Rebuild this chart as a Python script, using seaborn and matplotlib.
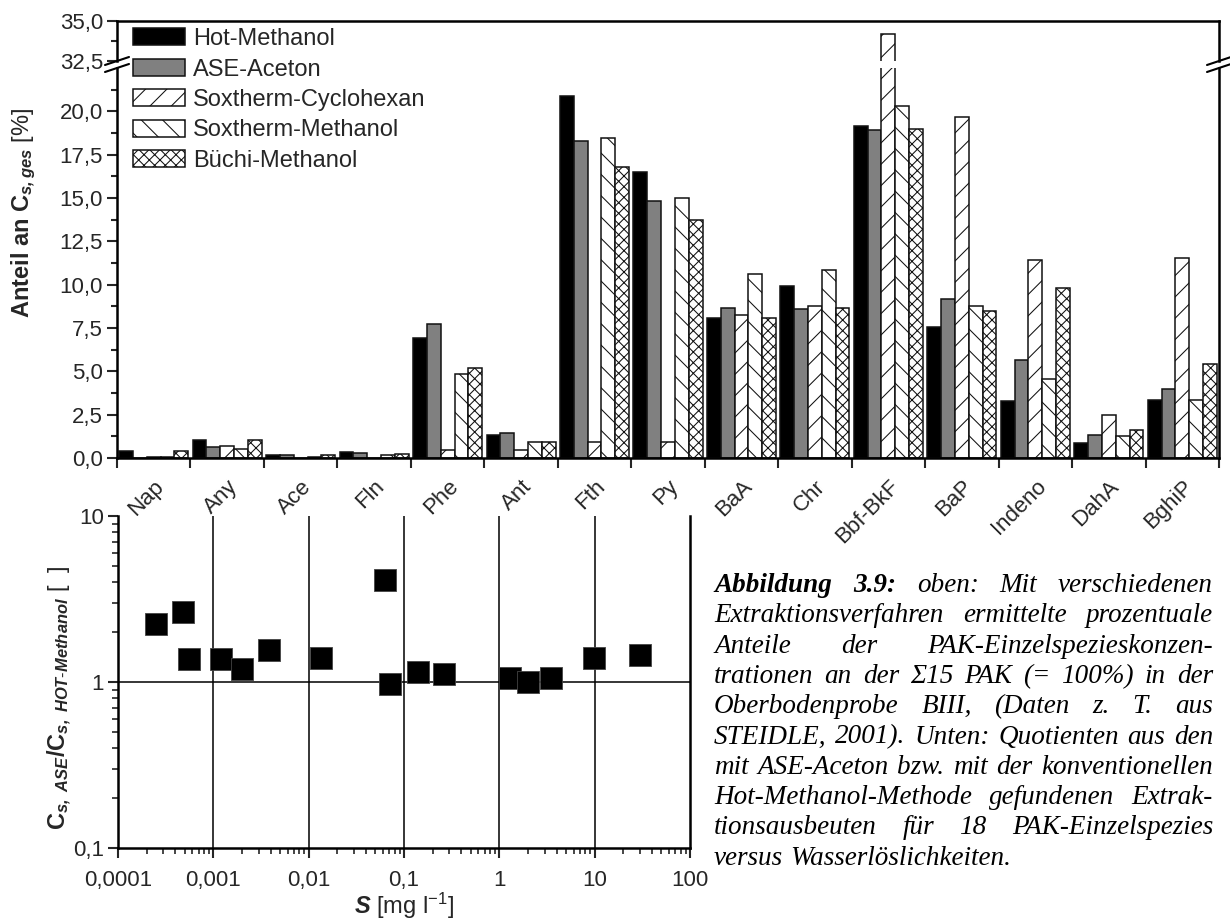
import numpy as np
import pandas as pd
import matplotlib
matplotlib.use("Agg")
import matplotlib.pyplot as plt
import seaborn as sns
from matplotlib.patches import Patch
from matplotlib.lines import Line2D
from matplotlib.ticker import FixedLocator, FuncFormatter, NullFormatter

# ---------------- data ----------------
categories = ["Nap", "Any", "Ace", "Fln", "Phe", "Ant", "Fth", "Py", "BaA", "Chr",
              "Bbf-BkF", "BaP", "Indeno", "DahA", "BghiP"]
series_names = ["Hot-Methanol", "ASE-Aceton", "Soxtherm-Cyclohexan",
                "Soxtherm-Methanol", "Büchi-Methanol"]
hot_methanol = [0.40, 1.05, 0.20, 0.35, 6.90, 1.35, 20.90, 16.50, 8.10, 9.95, 19.15, 7.55, 3.30, 0.85, 3.35]
ase_aceton = [0.02, 0.65, 0.15, 0.30, 7.75, 1.42, 18.30, 14.80, 8.65, 8.60, 18.90, 9.15, 5.65, 1.35, 4.00]
sox_cyclohexan = [0.05, 0.70, 0.02, 0.02, 0.45, 0.45, 0.95, 0.95, 8.25, 8.75, 34.20, 19.70, 11.40, 2.50, 11.55]
sox_methanol = [0.05, 0.50, 0.08, 0.15, 4.85, 0.90, 18.45, 15.00, 10.60, 10.85, 20.30, 8.75, 4.55, 1.25, 3.35]
buechi_methanol = [0.40, 1.05, 0.15, 0.22, 5.20, 0.90, 16.80, 13.75, 8.10, 8.65, 19.00, 8.50, 9.80, 1.60, 5.45]

solubility = [2.5e-4, 4.8e-4, 5.5e-4, 1.2e-3, 2.0e-3, 3.8e-3, 1.35e-2, 6.3e-2,
              7.2e-2, 0.14, 0.26, 1.3, 2.0, 3.5, 9.9, 30.0]
ratio_ase_hot = [2.25, 2.65, 1.38, 1.38, 1.20, 1.55, 1.40, 4.10,
                 0.97, 1.15, 1.12, 1.05, 1.00, 1.05, 1.40, 1.45]

y_ticks_lower = [0, 2.5, 5, 7.5, 10, 12.5, 15, 17.5, 20]
y_ticks_upper = [32.5, 35.0]
x_decades_sc = [1e-4, 1e-3, 1e-2, 1e-1, 1, 10, 100]
y_decades_sc = [0.1, 1, 10]

caption_lines = [
    "Abbildung 3.9: oben: Mit verschiedenen",
    "Extraktionsverfahren ermittelte prozentuale",
    "Anteile der PAK-Einzelspezieskonzen-",
    "trationen an der Σ15 PAK (= 100%) in der",
    "Oberbodenprobe BIII, (Daten z. T. aus",
    "STEIDLE, 2001). Unten: Quotienten aus den",
    "mit ASE-Aceton bzw. mit der konventionellen",
    "Hot-Methanol-Methode gefundenen Extrak-",
    "tionsausbeuten für 18 PAK-Einzelspezies",
    "versus Wasserlöslichkeiten.",
]

# ---------------- style ----------------
DPI = 64
K = 100 / DPI   # converts "points at 100 dpi" into points at the working dpi

sns.set_theme(style="ticks")
plt.rcParams["font.family"] = ["Liberation Sans", "DejaVu Sans"]
plt.rcParams["mathtext.fontset"] = "custom"
plt.rcParams["mathtext.rm"] = "Liberation Sans"
plt.rcParams["mathtext.it"] = "Liberation Sans:italic"
plt.rcParams["mathtext.bf"] = "Liberation Sans:bold"
plt.rcParams["mathtext.bfit"] = "Liberation Sans:bold:italic"
plt.rcParams["hatch.linewidth"] = 0.75 * K
plt.rcParams["hatch.color"] = "black"

W, H = 1230, 922
fig = plt.figure(figsize=(W / DPI, H / DPI), dpi=DPI)
fig.patch.set_facecolor("white")


def fx(px):
    return px / W


def fy(py):
    return 1 - py / H


L, R = 117, 1219
UP_T, UP_B = 21, 61
LO_T, LO_B = 68, 458
ax_up = fig.add_axes([fx(L), fy(UP_B), (R - L) / W, (UP_B - UP_T) / H])
ax_lo = fig.add_axes([fx(L), fy(LO_B), (R - L) / W, (LO_B - LO_T) / H])
ax_sc = fig.add_axes([fx(118), fy(848), (690 - 118) / W, (848 - 516) / H])

df = pd.DataFrame({
    "Kategorie": categories * 5,
    "Verfahren": sum([[s] * len(categories) for s in series_names], []),
    "Anteil": hot_methanol + ase_aceton + sox_cyclohexan + sox_methanol + buechi_methanol,
})

styles = [
    dict(fc="black", hatch=None),
    dict(fc="#808080", hatch=None),
    dict(fc="white", hatch="/"),
    dict(fc="white", hatch="\\"),
    dict(fc="white", hatch="xx"),
]

for ax in (ax_up, ax_lo):
    sns.barplot(data=df, x="Kategorie", y="Anteil", hue="Verfahren",
                order=categories, hue_order=series_names, width=0.94, gap=0,
                errorbar=None, saturation=1, legend=False, ax=ax)
    for cont, st in zip(ax.containers, styles):
        for p in cont:
            p.set_facecolor(st["fc"])
            p.set_edgecolor("#111111")
            p.set_linewidth(1.1 * K)
            if st["hatch"]:
                p.set_hatch(st["hatch"])
    ax.set_xlim(-0.5, len(categories) - 0.5)
    ax.set_xlabel("")
    ax.set_ylabel("")
    for s in ax.spines.values():
        s.set_linewidth(1.8 * K)
        s.set_color("black")
    ax.tick_params(axis="y", which="major", direction="out", length=7 * K, width=1.5 * K,
                   labelsize=16 * K, pad=3 * K)
    ax.tick_params(axis="y", which="minor", direction="out", length=4 * K, width=1.5 * K)
    ax.yaxis.set_major_formatter(FuncFormatter(lambda v, p: f"{v:.1f}".replace(".", ",")))

ax_lo.set_ylim(0, 22.5)
ax_lo.yaxis.set_major_locator(FixedLocator(y_ticks_lower))
ax_lo.yaxis.set_minor_locator(FixedLocator(list(np.arange(1.25, 22.0, 2.5))))
ax_lo.spines["top"].set_visible(False)
ax_lo.set_xticks(np.arange(-0.5, len(categories), 1.0))
ax_lo.set_xticklabels([])
ax_lo.set_xticks(np.arange(len(categories)), minor=True)
ax_lo.set_xticklabels(categories, minor=True, rotation=45, ha="right",
                      rotation_mode="anchor", fontsize=16 * K)
ax_lo.tick_params(axis="x", which="major", direction="out", length=7 * K, width=1.5 * K)
ax_lo.tick_params(axis="x", which="minor", length=0, pad=13 * K)

ax_up.set_ylim(32.5, 35.0)
ax_up.yaxis.set_major_locator(FixedLocator(y_ticks_upper))
ax_up.yaxis.set_minor_locator(FixedLocator([33.75]))
ax_up.spines["bottom"].set_visible(False)
ax_up.set_xticks([])
ax_up.tick_params(axis="x", which="both", length=0)

# break marks
for xc in (L, R):
    for yc in (UP_B, LO_T):
        fig.add_artist(Line2D([fx(xc - 12), fx(xc + 12)], [fy(yc + 4), fy(yc - 4)],
                              color="black", lw=1.5 * K, transform=fig.transFigure))

# legend
handles = [Patch(facecolor=st["fc"], edgecolor="#111111", hatch=st["hatch"], linewidth=1.1 * K)
           for st in styles]
fig.legend(handles, series_names, loc="upper left", bbox_to_anchor=(fx(133), fy(28)),
           frameon=False, fontsize=17 * K, handlelength=2.2, handleheight=0.75,
           handletextpad=0.35, labelspacing=0.36, borderpad=0, borderaxespad=0)

fig.text(fx(24), fy(213), r"$\mathbf{Anteil\ an\ C}_{\mathbfit{s,ges}}\ \mathrm{[\%]}$",
         rotation=90, ha="center", va="center", fontsize=17 * K)

# ---------------- scatter ----------------
for v in x_decades_sc[1:-1]:
    ax_sc.axvline(v, color="black", lw=1.1 * K, zorder=1)
ax_sc.axhline(1, color="black", lw=1.1 * K, zorder=1)
sns.scatterplot(x=solubility, y=ratio_ase_hot, marker="s", s=260 * K * K, color="black",
                edgecolor="#444444", linewidth=0.6 * K, ax=ax_sc, zorder=3, legend=False)
ax_sc.set_xscale("log")
ax_sc.set_yscale("log")
ax_sc.spines["top"].set_visible(False)
for s in ("left", "bottom", "right"):
    ax_sc.spines[s].set_linewidth(1.8 * K)
    ax_sc.spines[s].set_color("black")
comma = FuncFormatter(lambda v, p: f"{v:g}".replace(".", ","))
for axis, dec in ((ax_sc.xaxis, x_decades_sc), (ax_sc.yaxis, y_decades_sc)):
    minors = [d * m for d in dec[:-1] for m in range(2, 10)]
    axis.set_major_locator(FixedLocator(dec))
    axis.set_minor_locator(FixedLocator(minors))
    axis.set_major_formatter(comma)
    axis.set_minor_formatter(NullFormatter())
ax_sc.set_xlim(1e-4, 100)
ax_sc.set_ylim(0.1, 10)
ax_sc.tick_params(which="major", direction="out", length=7 * K, width=1.5 * K, labelsize=16 * K)
ax_sc.tick_params(which="minor", direction="out", length=4 * K, width=1.2 * K)
ax_sc.tick_params(axis="x", which="major", pad=8.6 * K)
ax_sc.tick_params(axis="y", which="major", pad=3 * K)
ax_sc.set_xlabel(r"$\mathbfit{S}$ [mg l$^{-1}$]", fontsize=17 * K, labelpad=0)
ax_sc.set_ylabel("")
fig.text(fx(60), fy(698),
         r"$\mathbf{C}_{\mathbfit{s,\ ASE}}\mathbf{/C}_{\mathbfit{s,\ HOT\text{-}Methanol}}\ \mathrm{[\ \ ]}$",
         rotation=90, ha="center", va="center", fontsize=17 * K)

# ---------------- caption (justified) ----------------
fig.canvas.draw()
rend = fig.canvas.get_renderer()
cap_left, cap_right = 714, 1213
cap_fs = 19.5 * K
space_w = 0.25 * cap_fs * DPI / 72.0
for i, line in enumerate(caption_lines):
    words = line.split(" ")
    ybase = fy(592 + i * 30.3)
    texts = []
    for j, w in enumerate(words):
        bold = (i == 0 and j < 2)
        t = fig.text(fx(cap_left), ybase, w, fontsize=cap_fs, family="Liberation Serif",
                     style="italic", weight="bold" if bold else "normal",
                     ha="left", va="baseline", color="black")
        texts.append(t)
    widths = [t.get_window_extent(rend).width for t in texts]
    if i < len(caption_lines) - 1 and len(words) > 1:
        gap = (cap_right - cap_left - sum(widths)) / (len(words) - 1)
    else:
        gap = space_w
    x = cap_left
    for t, wd in zip(texts, widths):
        t.set_x(fx(x))
        x += wd + gap

fig.savefig("out.png", dpi=DPI, facecolor="white")
